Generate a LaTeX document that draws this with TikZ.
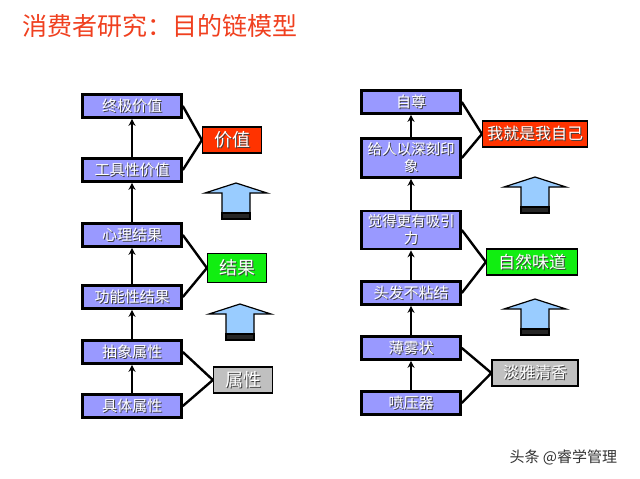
\documentclass[tikz,border=0pt]{standalone}
\usepackage{fontspec}
\usepackage{xcolor}
\usepackage{tikz}
\usetikzlibrary{arrows.meta}
\newfontfamily\cjk{Noto Sans CJK SC}
\definecolor{lav}{HTML}{9999FF}
\definecolor{tomato}{HTML}{FF3300}
\definecolor{lime}{HTML}{11EE11}
\definecolor{silv}{HTML}{C0C0C0}
\definecolor{skyb}{HTML}{99CCFF}
\definecolor{titred}{HTML}{F0401F}
\newcommand{\shd}[1]{\rlap{\kern1pt\raisebox{-1pt}{\color{black!75}#1}}#1}
\newcommand{\uparr}[2]{\filldraw[fill=skyb,draw=black,line width=1.2pt] (#1,#2)--({#1+31},{#2+10})--({#1+14},{#2+10})--({#1+14},{#2+36})--({#1-14},{#2+36})--({#1-14},{#2+10})--({#1-31},{#2+10})--cycle; \filldraw[fill=black!85,draw=black,line width=1.2pt] ({#1-14},{#2+30}) rectangle ({#1+14},{#2+36});}
\tikzset{
  stage/.style={draw=black,line width=2.6pt,fill=lav,minimum width=99pt,minimum height=23pt,inner sep=1pt,text=white,align=center,font=\cjk\fontsize{15}{17}\selectfont},
  tag/.style={draw=black,line width=1.2pt,minimum height=26pt,inner sep=2pt,text=white,font=\cjk\fontsize{18}{20}\selectfont},
  link/.style={line width=2.4pt},
  rise/.style={line width=2pt,-{Stealth[length=7pt,width=7pt]}}
}
\begin{document}
\begin{tikzpicture}[x=1pt,y=-1pt]
\useasboundingbox[fill=white] (0,0) rectangle (640,479);
\node[font=\cjk\fontsize{25}{28}\selectfont,text=titred,anchor=west] (title) at (19,26) {消费者研究：目的链模型};
% left chain
\node[stage] (l1) at (132,106) {\shd{终极价值}};
\node[stage] (l2) at (132,170) {\shd{工具性价值}};
\node[stage] (l3) at (132,235) {\shd{心理结果}};
\node[stage] (l4) at (132,297) {\shd{功能性结果}};
\node[stage] (l5) at (132,352) {\shd{抽象属性}};
\node[stage] (l6) at (132,406) {\shd{具体属性}};
\node[tag,fill=tomato,minimum width=59pt] (tv) at (232,140) {\shd{价值}};
\node[tag,fill=lime,minimum width=59pt,minimum height=29pt] (tr) at (237,268) {\shd{结果}};
\node[tag,fill=silv,minimum width=59pt] (ta) at (243,380) {\shd{属性}};
\foreach \a/\b in {l2/l1,l3/l2,l4/l3,l5/l4,l6/l5} \draw[rise] (\a.north) -- (\b.south);
\draw[link] (l1.east) -- (tv.west); \draw[link] (l2.east) -- (tv.west);
\draw[link] (l3.east) -- (tr.west); \draw[link] (l4.east) -- (tr.west);
\draw[link] (l5.east) -- (ta.west); \draw[link] (l6.east) -- (ta.west);
\uparr{236}{183} \uparr{240}{304}
% right chain
\node[stage] (r1) at (411,102) {\shd{自尊}};
\node[stage,minimum height=39pt,font=\cjk\fontsize{14.5}{17}\selectfont] (r2) at (411,158) {\shd{给人以深刻印}\\\shd{象}};
\node[stage,minimum height=38pt,font=\cjk\fontsize{14.5}{17}\selectfont] (r3) at (411,230) {\shd{觉得更有吸引}\\\shd{力}};
\node[stage] (r4) at (411,293) {\shd{头发不粘结}};
\node[stage] (r5) at (411,348) {\shd{薄雾状}};
\node[stage] (r6) at (411,403) {\shd{喷压器}};
\node[tag,fill=tomato,minimum width=105pt,font=\cjk\fontsize{16}{18}\selectfont] (sv) at (535,134) {\shd{我就是我自己}};
\node[tag,fill=lime,minimum width=91pt,font=\cjk\fontsize{17}{19}\selectfont] (sr) at (532,262) {\shd{自然味道}};
\node[tag,fill=silv,minimum width=86pt,font=\cjk\fontsize{16}{18}\selectfont] (sa) at (535,373) {\shd{淡雅清香}};
\foreach \a/\b in {r2/r1,r3/r2,r4/r3,r5/r4,r6/r5} \draw[rise] (\a.north) -- (\b.south);
\draw[link] (r1.east) -- (sv.west); \draw[link] (r2.east) -- (sv.west);
\draw[link] (r3.east) -- (sr.west); \draw[link] (r4.east) -- (sr.west);
\draw[link] (r5.east) -- (sa.west); \draw[link] (r6.east) -- (sa.west);
\uparr{535}{177} \uparr{535}{299}
\node[font=\cjk\fontsize{15}{17}\selectfont,text=black!80,anchor=west] (mark) at (506,457) {头条 @睿学管理};
\end{tikzpicture}
\end{document}
